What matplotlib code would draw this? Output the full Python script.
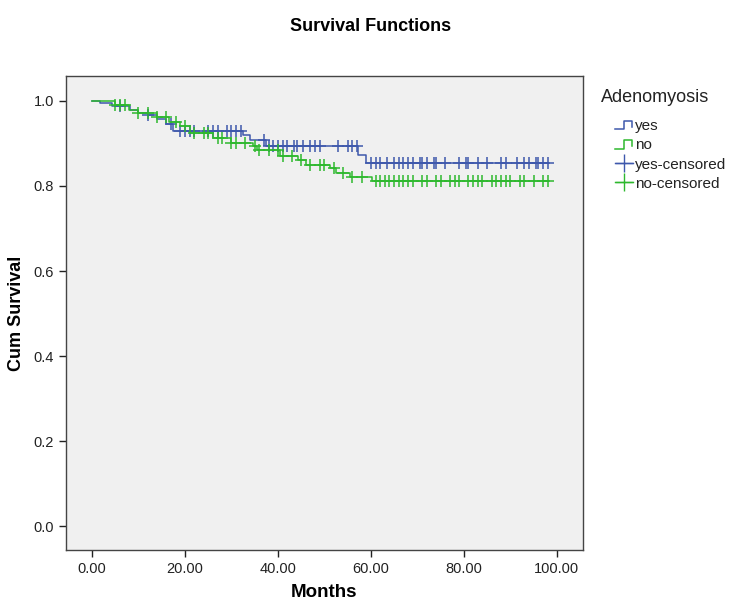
import numpy as np
import matplotlib.pyplot as plt
from matplotlib.lines import Line2D
from matplotlib.legend_handler import HandlerBase

plt.rcParams['font.family'] = ['Liberation Sans', 'DejaVu Sans']

# step functions (event time, survival after event)
yes_times = [0, 1.7, 4.2, 8.2, 10, 12, 14, 16, 17.5, 32.5, 34, 37.5, 57.3, 59]
yes_surv = [1.0, 0.995, 0.987, 0.979, 0.972, 0.966, 0.958, 0.945, 0.93, 0.92, 0.908, 0.893, 0.873, 0.853]
no_times = [0, 5, 8, 10, 14, 16.5, 19, 21, 26, 30, 34.7, 35.4, 40.4, 44.4, 46.1, 51.2, 52.6, 55.5, 60.3]
no_surv = [1.0, 0.99, 0.979, 0.972, 0.963, 0.951, 0.94, 0.924, 0.913, 0.902, 0.895, 0.885, 0.87,
           0.861, 0.849, 0.842, 0.83, 0.822, 0.812]
end_time = 98.3

# censored observations
yes_cens = [6, 12, 17, 19, 20, 21, 22, 25, 26, 27, 29, 30, 31, 32, 37, 38, 39, 40, 41, 42, 43.5, 44,
            45.5, 47, 48, 49, 53, 55, 56, 57, 60, 61, 62, 63.5, 65, 66, 67, 68, 69, 70.5, 71, 72,
            73.5, 74, 76, 79, 80.5, 81, 83, 85, 88, 89, 91.5, 93, 94, 95.5, 96, 97, 98]
no_cens = [5, 6, 7, 10, 12, 14, 16, 18, 20, 22, 24, 25, 27, 28, 30, 31, 33, 35, 36, 38, 40, 41, 43,
           45, 47, 49, 50, 52, 54, 56, 58, 61, 62, 63, 64, 65, 66, 67, 68, 69, 71, 72, 74, 75, 77,
           78, 79, 81, 82, 83, 84, 86, 87, 88, 89, 90, 92, 93, 95, 97, 98]

blue = '#3e58ac'
green = '#2eb82e'


def surv_at(times, surv, t):
    idx = np.searchsorted(times, t, side='right') - 1
    return np.array(surv)[idx]


class StepHandler(HandlerBase):
    def create_artists(self, legend, orig_handle, xdescent, ydescent, width, height, fontsize, trans):
        x = np.array([0, 0.5, 0.5, 0.9, 0.9]) * width - xdescent
        y = np.array([0.1, 0.1, 0.8, 0.8, 0.3]) * height - ydescent
        ln = Line2D(x, y, color=orig_handle.get_color(), lw=1.1, transform=trans)
        return [ln]


fig = plt.figure(figsize=(7.48, 6.16), dpi=100)
ax = fig.add_axes([0.0882, 0.107, 0.691, 0.770])
ax.set_facecolor('#f0f0f0')

for times, surv, cens, col in [(yes_times, yes_surv, yes_cens, blue), (no_times, no_surv, no_cens, green)]:
    xs = list(times) + [end_time]
    ys = list(surv) + [surv[-1]]
    ax.step(xs, ys, where='post', color=col, lw=1.1)
    ax.plot(cens, surv_at(times, surv, cens), ls='none', marker='+', ms=8, mew=1.1, color=col)

ax.set_xlim(-5.6, 105.6)
ax.set_ylim(-0.056, 1.059)
ax.set_xticks(np.arange(0, 101, 20))
ax.set_xticklabels(['%.2f' % v for v in np.arange(0, 101, 20)])
ax.set_yticks(np.arange(0, 1.01, 0.2))
ax.set_yticklabels(['%.1f' % v for v in np.arange(0, 1.01, 0.2)])
ax.tick_params(direction='out', length=5, width=1, labelsize=10.5, colors='#222222')
for s in ax.spines.values():
    s.set_color('#444444')
    s.set_linewidth(1.0)

ax.set_xlabel('Months', fontsize=13.5, fontweight='bold', labelpad=6)
ax.set_ylabel('Cum Survival', fontsize=13, fontweight='bold', labelpad=6)
fig.suptitle('Survival Functions', fontsize=13, fontweight='bold', x=0.495, y=0.97)

fig.text(655 / 748, 1 - 98 / 616, 'Adenomyosis', fontsize=13, ha='center', va='center', color='#222222')
h_yes = Line2D([], [], color=blue)
h_no = Line2D([], [], color=green)
h_yc = Line2D([], [], color=blue, marker='+', ms=13, lw=1.0, mew=1.0)
h_nc = Line2D([], [], color=green, marker='+', ms=13, lw=1.0, mew=1.0)
leg = fig.legend([h_yes, h_no, h_yc, h_nc], ['yes', 'no', 'yes-censored', 'no-censored'],
                 loc='upper left', bbox_to_anchor=(615 / 748, 1 - 118 / 616),
                 frameon=False, fontsize=11, handlelength=1.2, handleheight=0.9,
                 handletextpad=0.1, labelspacing=0.32, borderpad=0, borderaxespad=0,
                 handler_map={h_yes: StepHandler(), h_no: StepHandler()})
for t in leg.get_texts():
    t.set_color('#222222')

fig.savefig('out.png', dpi=100)
